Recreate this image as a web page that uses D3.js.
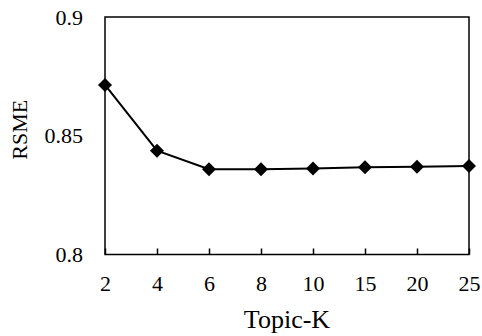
<!DOCTYPE html>
<html>
<head>
<meta charset="utf-8">
<script src="https://cdn.jsdelivr.net/npm/d3@7"></script>
<style>
  body { margin: 0; background: #fff; }
  svg { display: block; font-family: "Liberation Serif", "Times New Roman", serif; }
</style>
</head>
<body>
<svg id="chart" width="482" height="336"></svg>
<script>
// data
const topicK = ['2', '4', '6', '8', '10', '15', '20', '25'];
const rsme = [0.8714, 0.8437, 0.8359, 0.8359, 0.8362, 0.8367, 0.8369, 0.8373];
const yTicks = [0.8, 0.85, 0.9];

const margin = { top: 17, right: 13, bottom: 81.5, left: 105 };
const width = 482 - margin.left - margin.right;
const height = 336 - margin.top - margin.bottom;

const svg = d3.select('#chart');
const g = svg.append('g')
    .attr('transform', `translate(${margin.left},${margin.top})`);

const x = d3.scalePoint()
    .domain(topicK)
    .range([0, width]);

const y = d3.scaleLinear()
    .domain([0.8, 0.9])
    .range([height, 0]);

// frame
g.append('rect')
    .attr('x', 0).attr('y', 0)
    .attr('width', width).attr('height', height)
    .attr('fill', 'none')
    .attr('stroke', '#000')
    .attr('stroke-width', 1.5);

// x axis, ticks pointing inward
const xAxis = g.append('g')
    .attr('transform', `translate(0,${height})`)
    .call(d3.axisBottom(x).tickSize(-6).tickPadding(21))
    .attr('font-family', null)
    .attr('font-size', 22);
xAxis.select('.domain').remove();
xAxis.selectAll('line').attr('stroke', '#000').attr('stroke-width', 1.5);
xAxis.selectAll('text').attr('fill', '#000');

const yAxis = g.append('g')
    .call(d3.axisLeft(y).tickValues(yTicks).tickSize(0).tickPadding(22)
        .tickFormat(d => d === 0.85 ? '0.85' : d.toFixed(1)))
    .attr('font-family', null)
    .attr('font-size', 22);
yAxis.select('.domain').remove();
yAxis.selectAll('text').attr('fill', '#000');

// line
const line = d3.line()
    .x((d, i) => x(topicK[i]))
    .y(d => y(d));

g.append('path')
    .datum(rsme)
    .attr('d', line)
    .attr('fill', 'none')
    .attr('stroke', '#000')
    .attr('stroke-width', 2);

g.selectAll('.marker')
    .data(rsme)
    .enter()
    .append('path')
    .attr('class', 'marker')
    .attr('transform', (d, i) => `translate(${x(topicK[i])},${y(d)})`)
    .attr('d', 'M0,-7L7,0L0,7L-7,0Z')
    .attr('fill', '#000');

// axis titles
svg.append('text')
    .attr('x', margin.left + width / 2)
    .attr('y', 328)
    .attr('text-anchor', 'middle')
    .attr('font-size', 26)
    .text('Topic-K');

svg.append('text')
    .attr('transform', `translate(27,${margin.top + height / 2 - 6}) rotate(-90)`)
    .attr('text-anchor', 'middle')
    .attr('font-size', 22)
    .text('RSME');
</script>
</body>
</html>
